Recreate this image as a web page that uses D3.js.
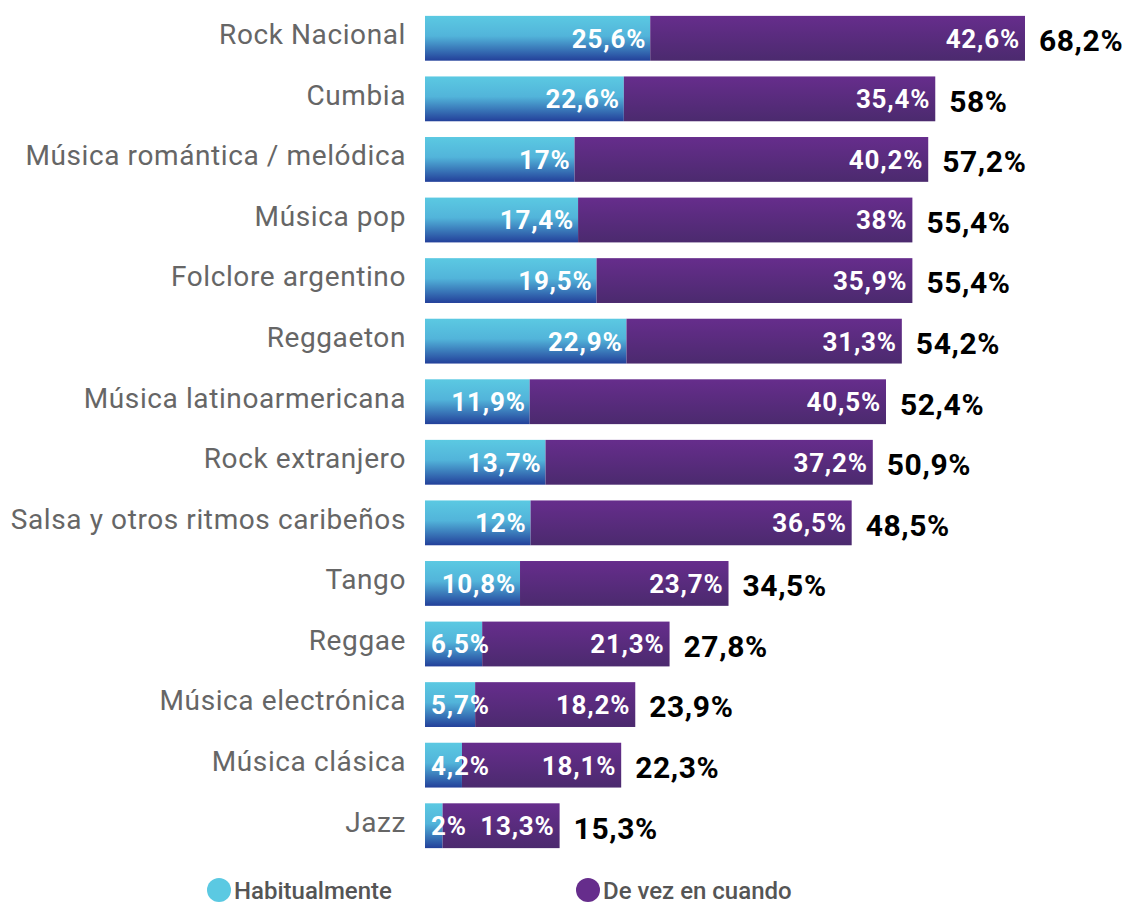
<!DOCTYPE html>
<html>
<head>
<meta charset="utf-8">
<script src="https://cdn.jsdelivr.net/npm/d3@7"></script>
<style>
  body { margin: 0; background: #fff; }
  text { font-family: Roboto, "Noto Sans", sans-serif; }
</style>
</head>
<body>
<script>
const categories = ['Rock Nacional', 'Cumbia', 'Música romántica / melódica', 'Música pop',
    'Folclore argentino', 'Reggaeton', 'Música latinoarmericana', 'Rock extranjero',
    'Salsa y otros ritmos caribeños', 'Tango', 'Reggae', 'Música electrónica',
    'Música clásica', 'Jazz'];
const habitual = [25.6, 22.6, 17, 17.4, 19.5, 22.9, 11.9, 13.7, 12, 10.8, 6.5, 5.7, 4.2, 2];
const aVeces = [42.6, 35.4, 40.2, 38, 35.9, 31.3, 40.5, 37.2, 36.5, 23.7, 21.3, 18.2, 18.1, 13.3];
const totals = [68.2, 58, 57.2, 55.4, 55.4, 54.2, 52.4, 50.9, 48.5, 34.5, 27.8, 23.9, 22.3, 15.3];
const seriesNames = ['Habitualmente', 'De vez en cuando'];

const width = 1125, height = 905;
const left = 425;

const fmt = v => String(v).replace('.', ',') + '%';

const svg = d3.select('body').append('svg')
    .attr('width', width)
    .attr('height', height);

const defs = svg.append('defs');
const g1 = defs.append('linearGradient').attr('id', 'gHab')
    .attr('x1', 0).attr('y1', 0).attr('x2', 0).attr('y2', 1);
g1.append('stop').attr('offset', '0%').attr('stop-color', '#5bc9e2');
g1.append('stop').attr('offset', '45%').attr('stop-color', '#52b4da');
g1.append('stop').attr('offset', '100%').attr('stop-color', '#23409a');
const g2 = defs.append('linearGradient').attr('id', 'gVez')
    .attr('x1', 0).attr('y1', 0).attr('x2', 0).attr('y2', 1);
g2.append('stop').attr('offset', '0%').attr('stop-color', '#662d8c');
g2.append('stop').attr('offset', '100%').attr('stop-color', '#4b2a6e');

const x = d3.scaleLinear()
    .domain([0, 68.2])
    .range([left, 1025]);

const y = d3.scaleBand()
    .domain(categories)
    .range([8, 856])
    .paddingInner(0.26)
    .paddingOuter(0.13);

// category labels
svg.append('g').selectAll('text')
    .data(categories)
    .enter().append('text')
    .attr('x', 406)
    .attr('y', d => y(d) + y.bandwidth() / 2 - 4)
    .attr('dy', '0.35em')
    .attr('text-anchor', 'end')
    .attr('font-size', 28)
    .attr('letter-spacing', 0.6)
    .attr('fill', '#666')
    .text(d => d);

const rows = svg.append('g').selectAll('g')
    .data(categories)
    .enter().append('g');

rows.append('rect')
    .attr('x', x(0))
    .attr('y', d => y(d))
    .attr('width', (d, i) => x(habitual[i]) - x(0))
    .attr('height', y.bandwidth())
    .attr('fill', 'url(#gHab)');

rows.append('rect')
    .attr('x', (d, i) => x(habitual[i]))
    .attr('y', d => y(d))
    .attr('width', (d, i) => x(totals[i]) - x(habitual[i]))
    .attr('height', y.bandwidth())
    .attr('fill', 'url(#gVez)');

// inner labels, habitual
rows.append('text')
    .attr('y', d => y(d) + y.bandwidth() / 2)
    .attr('dy', '0.36em')
    .attr('text-anchor', 'end')
    .attr('font-size', 26)
    .attr('letter-spacing', 0.8)
    .attr('font-weight', 'bold')
    .attr('fill', '#fff')
    .text((d, i) => fmt(habitual[i]))
    .attr('x', function (d, i) {
        const w = this.getComputedTextLength();
        return Math.max(x(habitual[i]) - 4, x(0) + 6 + w);
    });

// inner labels, de vez en cuando
rows.append('text')
    .attr('x', (d, i) => x(totals[i]) - 5)
    .attr('y', d => y(d) + y.bandwidth() / 2)
    .attr('dy', '0.36em')
    .attr('text-anchor', 'end')
    .attr('font-size', 26)
    .attr('letter-spacing', 0.8)
    .attr('font-weight', 'bold')
    .attr('fill', '#fff')
    .text((d, i) => fmt(aVeces[i]));

// totals
rows.append('text')
    .attr('x', (d, i) => x(totals[i]) + 14)
    .attr('y', d => y(d) + y.bandwidth() / 2 + 2)
    .attr('dy', '0.36em')
    .attr('font-size', 30)
    .attr('letter-spacing', 0.6)
    .attr('font-weight', 'bold')
    .attr('fill', '#000')
    .text((d, i) => fmt(totals[i]));

// legend
const legend = svg.append('g').selectAll('g')
    .data(seriesNames)
    .enter().append('g')
    .attr('transform', (d, i) => 'translate(' + [219, 588][i] + ',890)');

legend.append('circle')
    .attr('r', 12)
    .attr('fill', (d, i) => ['#5bc9e2', '#662d8c'][i]);

legend.append('text')
    .attr('x', 15)
    .attr('y', 9)
    .attr('font-size', 24)
    .attr('font-weight', 500)
    .attr('fill', '#555')
    .text(d => d);
</script>
</body>
</html>
